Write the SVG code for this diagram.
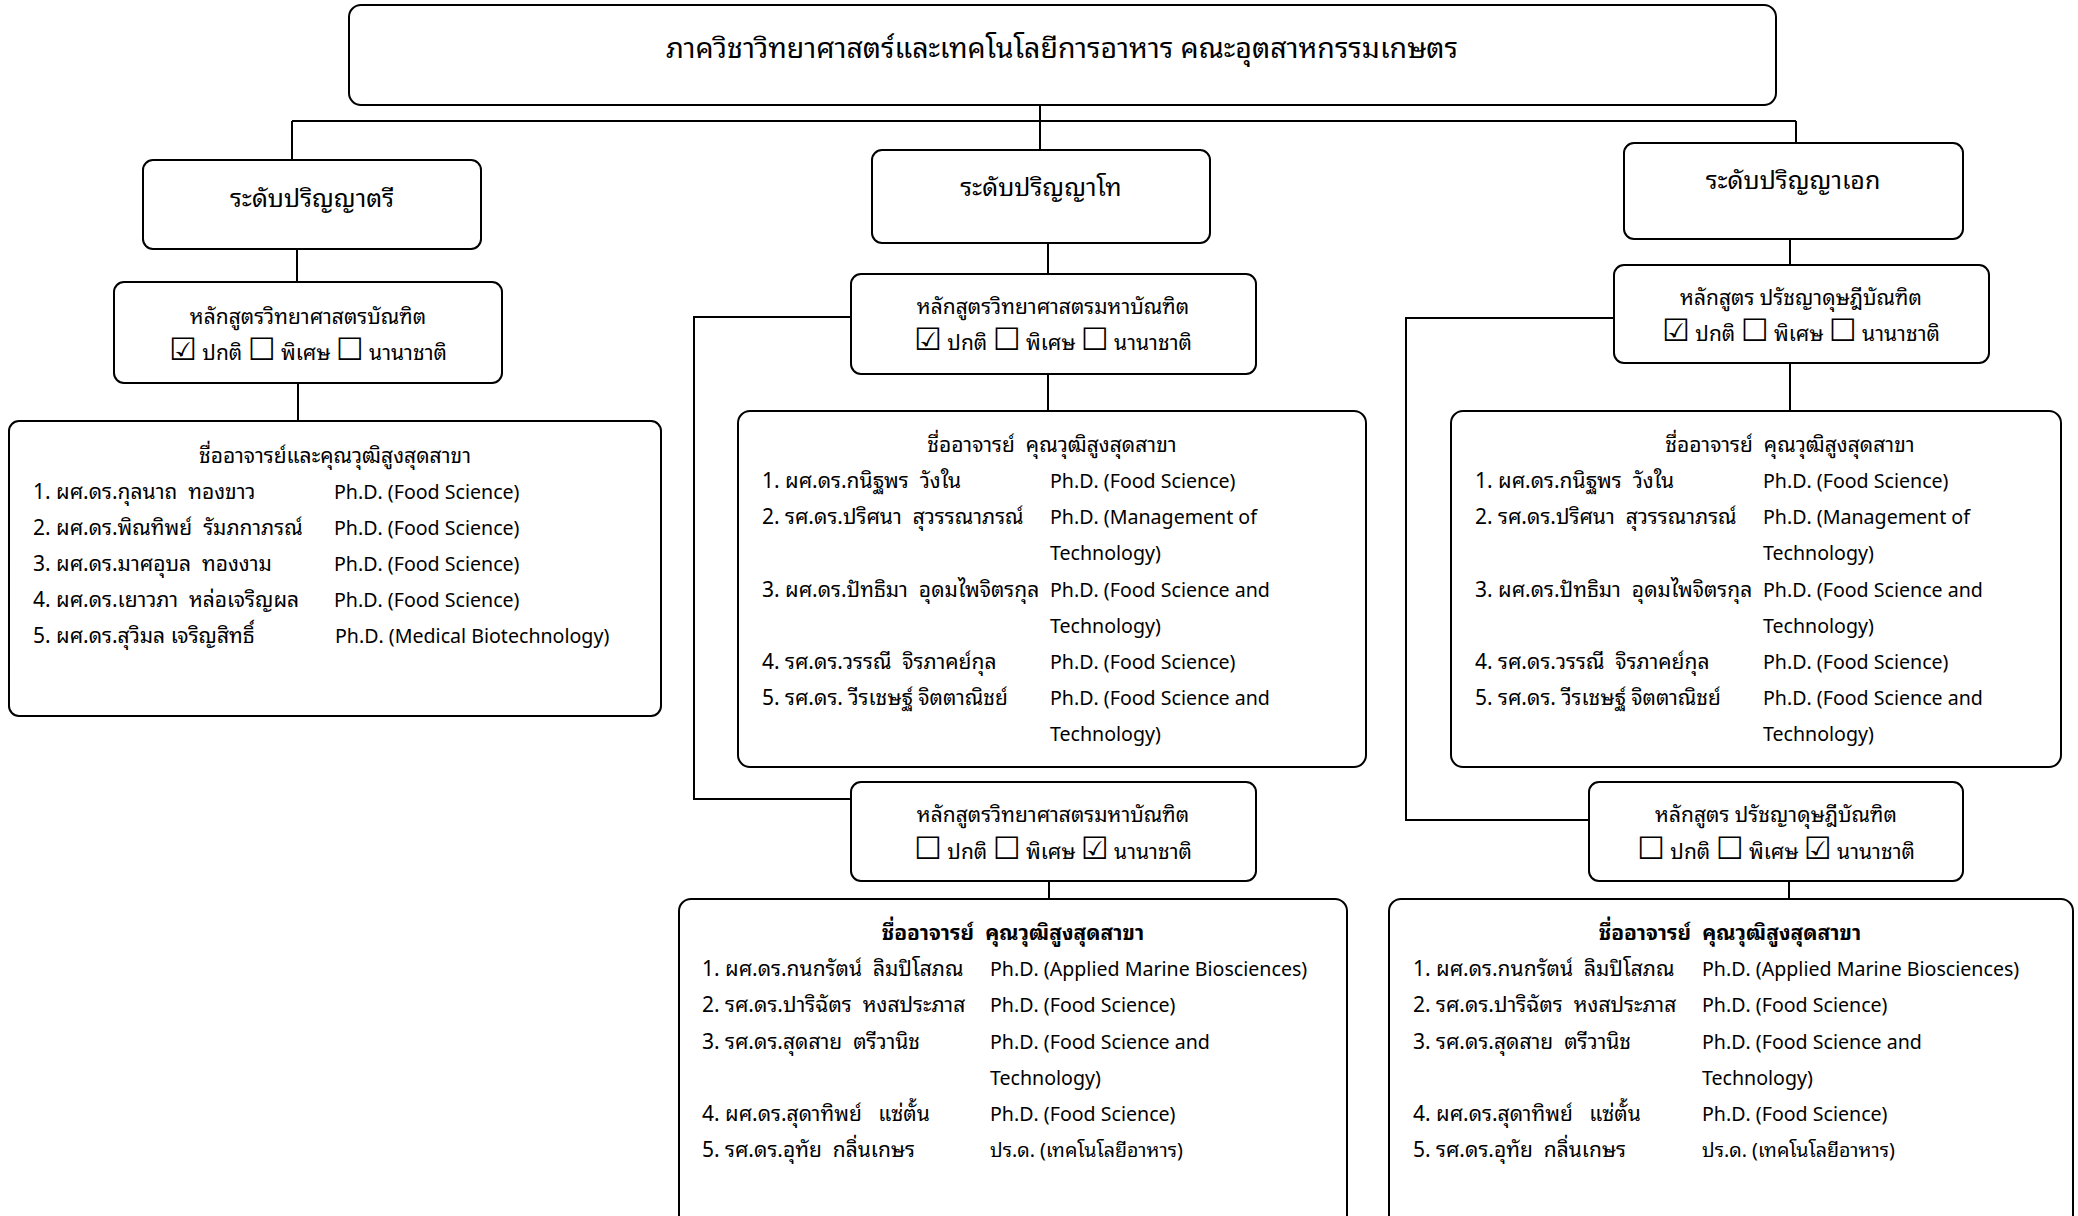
<svg xmlns="http://www.w3.org/2000/svg" width="2078" height="1216" viewBox="0 0 2078 1216" xml:space="preserve">
<style>
text{font-family:"Noto Sans Thai Looped","Noto Serif Thai","Noto Sans Thai","Noto Sans","DejaVu Sans",sans-serif;fill:#000;white-space:pre;}
.box{fill:#fff;stroke:#000;stroke-width:2;}
.con{fill:none;stroke:#000;stroke-width:2;}
.t1{font-size:28.5px;text-anchor:middle;}
.t2{font-size:25px;text-anchor:middle;}
.t3{font-size:21px;text-anchor:middle;}
.li{font-size:21px;}
.dg{font-size:19.6px;}
.hb{font-weight:bold;}
.cb{font-family:"DejaVu Sans",sans-serif;font-size:31px;}
.ck{font-weight:bold;}
</style>
<rect width="2078" height="1216" fill="#fff"/>
<g id="connectors" class="con">
<path d="M1040 105V150"/>
<path d="M292 121H1796"/>
<path d="M292 121V160"/>
<path d="M1796 121V143"/>
<path d="M297 249V282"/>
<path d="M298 383V421"/>
<path d="M1048 243V274"/>
<path d="M1048 374V411"/>
<path d="M851 317H694V799H851"/>
<path d="M1049 881V899"/>
<path d="M1790 239V265"/>
<path d="M1790 363V411"/>
<path d="M1614 318H1406V820H1589"/>
<path d="M1789 881V899"/>
</g>
<g id="title">
<rect class="box" x="349" y="5" width="1427" height="100" rx="12"/>
<text class="t1" x="1062" y="58">ภาควิชาวิทยาศาสตร์และเทคโนโลยีการอาหาร คณะอุตสาหกรรมเกษตร</text>
</g>
<g id="bachelor">
<rect class="box" x="143" y="160" width="338" height="89" rx="10"/>
<text class="t2" x="312" y="207">ระดับปริญญาตรี</text>
</g>
<g id="master">
<rect class="box" x="872" y="150" width="338" height="93" rx="10"/>
<text class="t2" x="1041" y="196">ระดับปริญญาโท</text>
</g>
<g id="phd">
<rect class="box" x="1624" y="143" width="339" height="96" rx="10"/>
<text class="t2" x="1793" y="189">ระดับปริญญาเอก</text>
</g>
<g id="bachelor-curriculum">
<rect class="box" x="114" y="282" width="388" height="101" rx="10"/>
<text class="t3" x="308" y="324">หลักสูตรวิทยาศาสตรบัณฑิต</text>
<text class="t3" x="308" y="360"><tspan class="cb ck">☑</tspan> ปกติ <tspan class="cb">☐</tspan> พิเศษ <tspan class="cb">☐</tspan> นานาชาติ</text>
</g>
<g id="bachelor-faculty">
<rect class="box" x="9" y="421" width="652" height="295" rx="10"/>
<text class="t3" x="335" y="463">ชื่ออาจารย์และคุณวุฒิสูงสุดสาขา</text>
<g class="li">
<text x="33" y="499">1. ผศ.ดร.กุลนาถ  ทองขาว</text><text class="dg" x="334" y="499">Ph.D. (Food Science)</text>
<text x="33" y="535">2. ผศ.ดร.พิณทิพย์  รัมภกาภรณ์</text><text class="dg" x="334" y="535">Ph.D. (Food Science)</text>
<text x="33" y="571">3. ผศ.ดร.มาศอุบล  ทองงาม</text><text class="dg" x="334" y="571">Ph.D. (Food Science)</text>
<text x="33" y="607">4. ผศ.ดร.เยาวภา  หล่อเจริญผล</text><text class="dg" x="334" y="607">Ph.D. (Food Science)</text>
<text x="33" y="643">5. ผศ.ดร.สุวิมล เจริญสิทธิ์</text><text class="dg" x="335" y="643">Ph.D. (Medical Biotechnology)</text>
</g>
</g>
<g id="master-curriculum-1">
<rect class="box" x="851" y="274" width="405" height="100" rx="10"/>
<text class="t3" x="1053" y="314">หลักสูตรวิทยาศาสตรมหาบัณฑิต</text>
<text class="t3" x="1053" y="350"><tspan class="cb ck">☑</tspan> ปกติ <tspan class="cb">☐</tspan> พิเศษ <tspan class="cb">☐</tspan> นานาชาติ</text>
</g>
<g id="master-faculty-1">
<rect class="box" x="738" y="411" width="628" height="356" rx="12"/>
<text class="t3" x="1052" y="452">ชื่ออาจารย์  คุณวุฒิสูงสุดสาขา</text>
<g class="li">
<text x="762" y="488">1. ผศ.ดร.กนิฐพร  วังใน</text><text class="dg" x="1050" y="488">Ph.D. (Food Science)</text>
<text x="762" y="524">2. รศ.ดร.ปริศนา  สุวรรณาภรณ์</text><text class="dg" x="1050" y="524">Ph.D. (Management of</text>
<text class="dg" x="1050" y="560">Technology)</text>
<text x="762" y="597">3. ผศ.ดร.ปัทธิมา  อุดมไพจิตรกุล</text><text class="dg" x="1050" y="597">Ph.D. (Food Science and</text>
<text class="dg" x="1050" y="633">Technology)</text>
<text x="762" y="669">4. รศ.ดร.วรรณี  จิรภาคย์กุล</text><text class="dg" x="1050" y="669">Ph.D. (Food Science)</text>
<text x="762" y="705">5. รศ.ดร. วีรเชษฐ์ จิตตาณิชย์</text><text class="dg" x="1050" y="705">Ph.D. (Food Science and</text>
<text class="dg" x="1050" y="741">Technology)</text>
</g>
</g>
<g id="master-curriculum-2">
<rect class="box" x="851" y="782" width="405" height="99" rx="10"/>
<text class="t3" x="1053" y="822">หลักสูตรวิทยาศาสตรมหาบัณฑิต</text>
<text class="t3" x="1053" y="859"><tspan class="cb">☐</tspan> ปกติ <tspan class="cb">☐</tspan> พิเศษ <tspan class="cb ck">☑</tspan> นานาชาติ</text>
</g>
<g id="master-faculty-2">
<rect class="box" x="679" y="899" width="668" height="330" rx="12"/>
<text class="t3 hb" x="1013" y="940">ชื่ออาจารย์  คุณวุฒิสูงสุดสาขา</text>
<g class="li">
<text x="702" y="976">1. ผศ.ดร.กนกรัตน์  ลิมปิโสภณ</text><text class="dg" x="990" y="976">Ph.D. (Applied Marine Biosciences)</text>
<text x="702" y="1012">2. รศ.ดร.ปาริฉัตร  หงสประภาส</text><text class="dg" x="990" y="1012">Ph.D. (Food Science)</text>
<text x="702" y="1049">3. รศ.ดร.สุดสาย  ตรีวานิช</text><text class="dg" x="990" y="1049">Ph.D. (Food Science and</text>
<text class="dg" x="990" y="1085">Technology)</text>
<text x="702" y="1121">4. ผศ.ดร.สุดาทิพย์   แซ่ตั้น</text><text class="dg" x="990" y="1121">Ph.D. (Food Science)</text>
<text x="702" y="1157">5. รศ.ดร.อุทัย  กลิ่นเกษร</text><text class="dg" x="990" y="1157">ปร.ด. (เทคโนโลยีอาหาร)</text>
</g>
</g>
<g id="phd-curriculum-1">
<rect class="box" x="1614" y="265" width="375" height="98" rx="10"/>
<text class="t3" x="1801" y="305">หลักสูตร ปรัชญาดุษฎีบัณฑิต</text>
<text class="t3" x="1801" y="341"><tspan class="cb ck">☑</tspan> ปกติ <tspan class="cb">☐</tspan> พิเศษ <tspan class="cb">☐</tspan> นานาชาติ</text>
</g>
<g id="phd-faculty-1">
<rect class="box" x="1451" y="411" width="610" height="356" rx="12"/>
<text class="t3" x="1790" y="452">ชื่ออาจารย์  คุณวุฒิสูงสุดสาขา</text>
<g class="li">
<text x="1475" y="488">1. ผศ.ดร.กนิฐพร  วังใน</text><text class="dg" x="1763" y="488">Ph.D. (Food Science)</text>
<text x="1475" y="524">2. รศ.ดร.ปริศนา  สุวรรณาภรณ์</text><text class="dg" x="1763" y="524">Ph.D. (Management of</text>
<text class="dg" x="1763" y="560">Technology)</text>
<text x="1475" y="597">3. ผศ.ดร.ปัทธิมา  อุดมไพจิตรกุล</text><text class="dg" x="1763" y="597">Ph.D. (Food Science and</text>
<text class="dg" x="1763" y="633">Technology)</text>
<text x="1475" y="669">4. รศ.ดร.วรรณี  จิรภาคย์กุล</text><text class="dg" x="1763" y="669">Ph.D. (Food Science)</text>
<text x="1475" y="705">5. รศ.ดร. วีรเชษฐ์ จิตตาณิชย์</text><text class="dg" x="1763" y="705">Ph.D. (Food Science and</text>
<text class="dg" x="1763" y="741">Technology)</text>
</g>
</g>
<g id="phd-curriculum-2">
<rect class="box" x="1589" y="782" width="374" height="99" rx="10"/>
<text class="t3" x="1776" y="822">หลักสูตร ปรัชญาดุษฎีบัณฑิต</text>
<text class="t3" x="1776" y="859"><tspan class="cb">☐</tspan> ปกติ <tspan class="cb">☐</tspan> พิเศษ <tspan class="cb ck">☑</tspan> นานาชาติ</text>
</g>
<g id="phd-faculty-2">
<rect class="box" x="1389" y="899" width="684" height="330" rx="12"/>
<text class="t3 hb" x="1730" y="940">ชื่ออาจารย์  คุณวุฒิสูงสุดสาขา</text>
<g class="li">
<text x="1413" y="976">1. ผศ.ดร.กนกรัตน์  ลิมปิโสภณ</text><text class="dg" x="1702" y="976">Ph.D. (Applied Marine Biosciences)</text>
<text x="1413" y="1012">2. รศ.ดร.ปาริฉัตร  หงสประภาส</text><text class="dg" x="1702" y="1012">Ph.D. (Food Science)</text>
<text x="1413" y="1049">3. รศ.ดร.สุดสาย  ตรีวานิช</text><text class="dg" x="1702" y="1049">Ph.D. (Food Science and</text>
<text class="dg" x="1702" y="1085">Technology)</text>
<text x="1413" y="1121">4. ผศ.ดร.สุดาทิพย์   แซ่ตั้น</text><text class="dg" x="1702" y="1121">Ph.D. (Food Science)</text>
<text x="1413" y="1157">5. รศ.ดร.อุทัย  กลิ่นเกษร</text><text class="dg" x="1702" y="1157">ปร.ด. (เทคโนโลยีอาหาร)</text>
</g>
</g>
</svg>
